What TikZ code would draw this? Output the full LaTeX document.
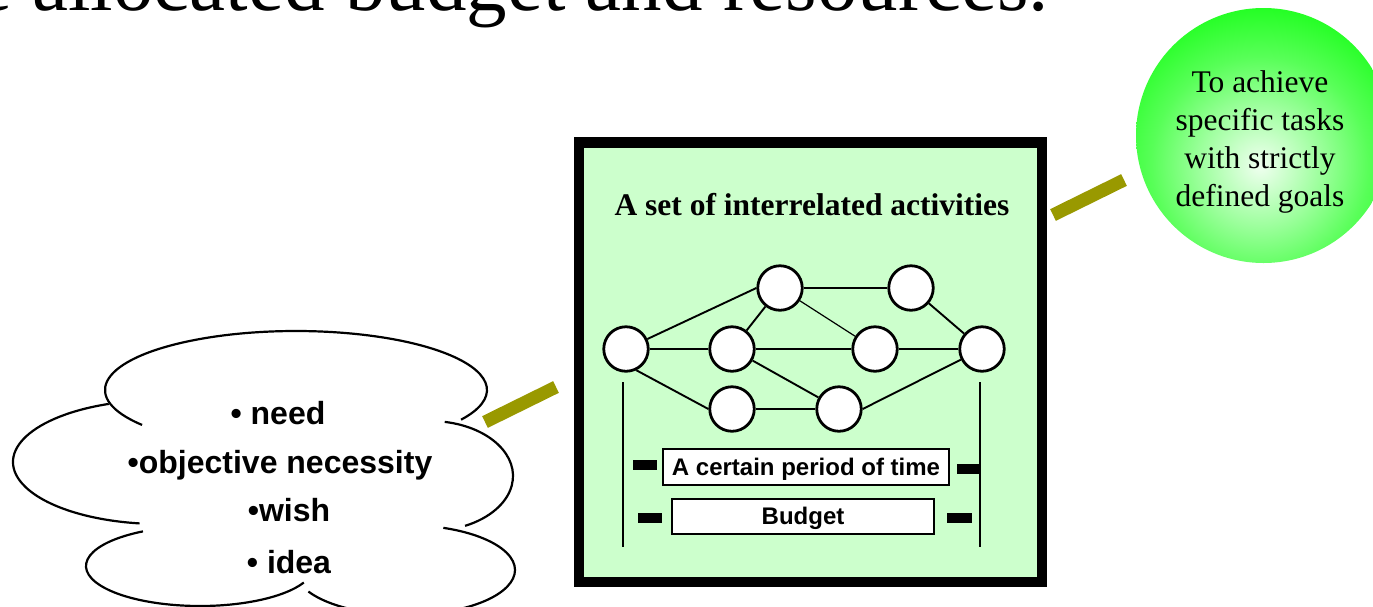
\documentclass[tikz,border=0pt]{standalone}
\usepackage{fontspec}
\setmainfont{Liberation Serif}
\newfontfamily\arialfont{Liberation Sans}
\usetikzlibrary{calc}

\definecolor{boxgreen}{HTML}{CCFFCC}
\definecolor{barolive}{HTML}{999900}
\definecolor{ballc0}{HTML}{F0FFF0}
\definecolor{ballc1}{HTML}{D4FFD4}
\definecolor{ballc2}{HTML}{9CFF9C}
\definecolor{ballc3}{HTML}{58FF58}
\definecolor{ballc4}{HTML}{26FF26}
\definecolor{ballc5}{HTML}{10FF10}
\pgfdeclareradialshading{greenglow}{\pgfpoint{0bp}{0bp}}{%
  color(0bp)=(ballc0); color(3bp)=(ballc1); color(9bp)=(ballc2); color(16bp)=(ballc3);
  color(23bp)=(ballc4); color(32bp)=(ballc5); color(50bp)=(ballc5)}

% one visible arc of the cloud outline: {cx,cy}{rx}{ry}{start}{end}
\newcommand\cloudlobe[5]{%
  \draw[cloudline] ([shift={(#4:#2 and #3)}]#1) arc[start angle=#4,end angle=#5,x radius=#2,y radius=#3];}

\begin{document}
\begin{tikzpicture}[x=1pt,y=-1pt,
  act/.style={circle,draw,line width=2.8pt,fill=white,minimum size=44.5pt,inner sep=0pt},
  link/.style={line width=1.9pt},
  thinlink/.style={line width=1.2pt},
  tick/.style={fill=black,inner sep=0pt,minimum height=10pt},
  labelbox/.style={draw,line width=2.3pt,fill=white,inner sep=0pt,text height=16pt,text depth=0pt,
    font=\arialfont\bfseries\fontsize{24}{28}\selectfont},
  pointer/.style={draw=barolive,line width=13pt},
  cloudline/.style={line width=2.2pt},
  item/.style={anchor=base,inner sep=0pt,font=\arialfont\bfseries\fontsize{32}{38}\selectfont},
]
\useasboundingbox (0,0) rectangle (1373,606);
\clip (0,0) rectangle (1373,606);

% heading line, cut by the top edge
\node[anchor=base west,inner sep=0pt,font=\fontsize{81}{90}\selectfont] (head) at (-24,10)
  {e allocated budget and resources.};

% goal ball: bright rim, pale glow a little below the middle
\node[circle,minimum size=255pt,inner sep=0pt,
  path picture={\shade[shading=greenglow] ($(path picture bounding box.center)+(-3.5,30)$) circle[radius=170];}]
  (goal) at (1263.5,135.5) {};
\node[align=center,inner sep=0pt,font=\fontsize{31.5}{38}\selectfont] (goaltext) at (1260,142)
  {To achieve\\specific tasks\\with strictly\\defined goals};

% project frame
\node[draw,line width=10.5pt,fill=boxgreen,minimum width=463pt,minimum height=439.5pt,inner sep=0pt]
  (frame) at (810.5,362.25) {};
\node[anchor=base,inner sep=0pt,font=\bfseries\fontsize{31.5}{36}\selectfont] (title) at (812,215)
  {A set of interrelated activities};

% activity network
\node[act] (c1) at (626,349) {};
\node[act] (c2) at (780,288) {};
\node[act] (c3) at (911,288) {};
\node[act] (c4) at (732,349) {};
\node[act] (c5) at (875,349) {};
\node[act] (c6) at (982,349) {};
\node[act] (c7) at (732,409) {};
\node[act] (c8) at (839,409) {};

\draw[link] (c1) -- (c2.west);
\draw[link] (c1) -- (c4);
\draw[link] (c1.-64) -- (c7.west);
\draw[link] (c4) -- (c2);
\draw[link] (c2) -- (c3);
\draw[thinlink] (c2) -- (c5);
\draw[link] (c4) -- (c5);
\draw[link] (c4) -- (c8);
\draw[link] (c5) -- (c6);
\draw[link] (c3) -- (c6);
\draw[link] (c7) -- (c8);
\draw[link] (c8.east) -- (c6);

% time span markers
\coordinate (lt) at (623,382);
\coordinate (lb) at (623,547);
\coordinate (rt) at (980,382);
\coordinate (rb) at (980,547);
\draw[link] (lt) -- (lb);
\draw[link] (rt) -- (rb);

\node[labelbox,minimum width=286pt,minimum height=36pt] (time) at (806,467) {A certain period of time};
\node[labelbox,minimum width=262pt,minimum height=35pt] (budget) at (803,516.5) {Budget};

\node[tick,minimum width=24pt] (t1) at (645,465) {};
\node[tick,minimum width=23pt] (t2) at (968.5,469) {};
\node[tick,minimum width=24pt] (t3) at (650,518) {};
\node[tick,minimum width=25pt] (t4) at (959.5,518) {};

% pointers
\coordinate (p1a) at (485,422);
\coordinate (p1b) at (556,387);
\coordinate (p2a) at (1053,215);
\coordinate (p2b) at (1124,180);
\draw[pointer] (p1a) -- (p1b);
\draw[pointer] (p2a) -- (p2b);

% cloud outline
\cloudlobe{296,390}{191}{59}{143.7}{390.2}
\cloudlobe{160,462}{147}{62}{249.6}{98}
\cloudlobe{200,566}{114}{40}{240}{24.4}
\cloudlobe{405,570}{110}{45}{151.4}{-69.6}
\cloudlobe{430,476}{83}{55}{-79.8}{65}

\node[item] (need) at (278,424) {• need};
\node[item] (necessity) at (280,473) {•objective necessity};
\node[item] (wish) at (289,521) {•wish};
\node[item] (idea) at (289,573) {• idea};
\end{tikzpicture}
\end{document}
